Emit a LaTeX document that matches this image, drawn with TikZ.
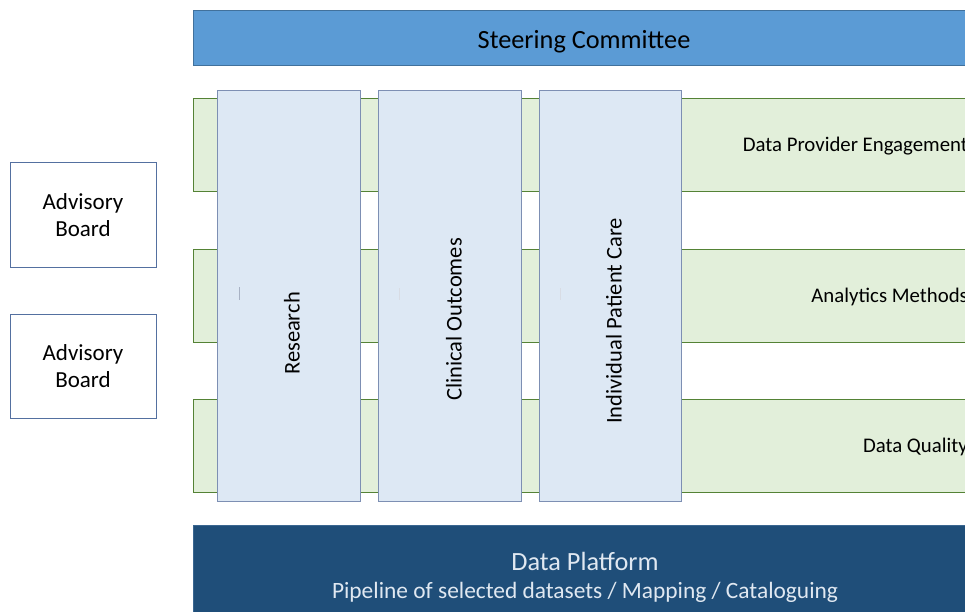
\documentclass[tikz,border=0pt]{standalone}
\usepackage{fontspec}
\setmainfont{Carlito}
\definecolor{steerfill}{HTML}{5B9BD5}
\definecolor{steerline}{HTML}{41719C}
\definecolor{bandfill}{HTML}{E2EFDA}
\definecolor{bandline}{HTML}{548235}
\definecolor{colfill}{HTML}{DDE8F4}
\definecolor{colline}{HTML}{7D8FB3}
\definecolor{advline}{HTML}{5470A0}
\definecolor{platfill}{HTML}{1F4E79}
\definecolor{platline}{HTML}{3A6690}
\definecolor{plattext}{HTML}{E0E8F1}
\definecolor{tickgray}{HTML}{A8B2C4}
\tikzset{
  box/.style={rectangle, inner sep=0pt, line width=1pt},
  steerbox/.style={box, fill=steerfill, draw=steerline},
  bandbox/.style={box, fill=bandfill, draw=bandline},
  colbox/.style={box, fill=colfill, draw=colline},
  advbox/.style={box, fill=white, draw=advline, align=center,
    font=\fontsize{23}{27.5}\selectfont},
  platbox/.style={box, fill=platfill, draw=platline},
  bandtext/.style={inner sep=0pt, anchor=base east, font=\fontsize{20.8}{24}\selectfont},
  coltext/.style={inner sep=0pt, rotate=90, font=\fontsize{22.5}{27}\selectfont},
}
\begin{document}
\begin{tikzpicture}[x=1pt, y=-1pt]
\useasboundingbox (0,0) rectangle (965,612);
\clip (0,0) rectangle (965,612);

% steering committee bar
\node[steerbox, minimum width=784pt, minimum height=55pt] (steer) at (585,38.5) {};
\node[inner sep=0pt, anchor=base, font=\fontsize{26.3}{31}\selectfont] (steerlbl) at (584,49) {Steering Committee};

% horizontal work streams
\node[bandbox, minimum width=802pt, minimum height=93pt] (band1) at (594,145.5) {};
\node[bandbox, minimum width=802pt, minimum height=93pt] (band2) at (594,295.5) {};
\node[bandbox, minimum width=802pt, minimum height=93pt] (band3) at (594,445.5) {};
\node[bandtext] (band1lbl) at (968,152) {Data Provider Engagement};
\node[bandtext] (band2lbl) at (968,302) {Analytics Methods};
\node[bandtext] (band3lbl) at (968,452) {Data Quality};

% vertical use-case columns
\node[colbox, minimum width=143pt, minimum height=410pt] (col1) at (288.5,296) {};
\node[colbox, minimum width=143pt, minimum height=410pt] (col2) at (449.5,296) {};
\node[colbox, minimum width=142pt, minimum height=410pt] (col3) at (610,296) {};
\node[coltext] (col1lbl) at (292,333.5) {Research};
\node[coltext] (col2lbl) at (454,319.5) {Clinical Outcomes};
\node[coltext] (col3lbl) at (614,321) {Individual Patient Care};
\draw[tickgray, line width=0.8pt] (239.5,287) -- (239.5,300);
\draw[tickgray!45, line width=0.8pt] (399.5,288) -- (399.5,300);
\draw[tickgray!45, line width=0.8pt] (560.5,288) -- (560.5,300);

% advisory boards
\node[advbox, minimum width=146pt, minimum height=104pt] (adv1) at (83,215) {Advisory\\Board};
\node[advbox, minimum width=146pt, minimum height=104pt] (adv2) at (83,366) {Advisory\\Board};

% data platform base
\node[platbox, minimum width=784pt, minimum height=115pt] (plat) at (585,582.5) {};
\node[inner sep=0pt, anchor=base, text=plattext, font=\fontsize{26.3}{31}\selectfont] (platlbl) at (585,570) {Data Platform};
\node[inner sep=0pt, anchor=base, text=plattext, font=\fontsize{23.4}{27}\selectfont] (platsub) at (585,598) {Pipeline of selected datasets / Mapping / Cataloguing};
\end{tikzpicture}
\end{document}
